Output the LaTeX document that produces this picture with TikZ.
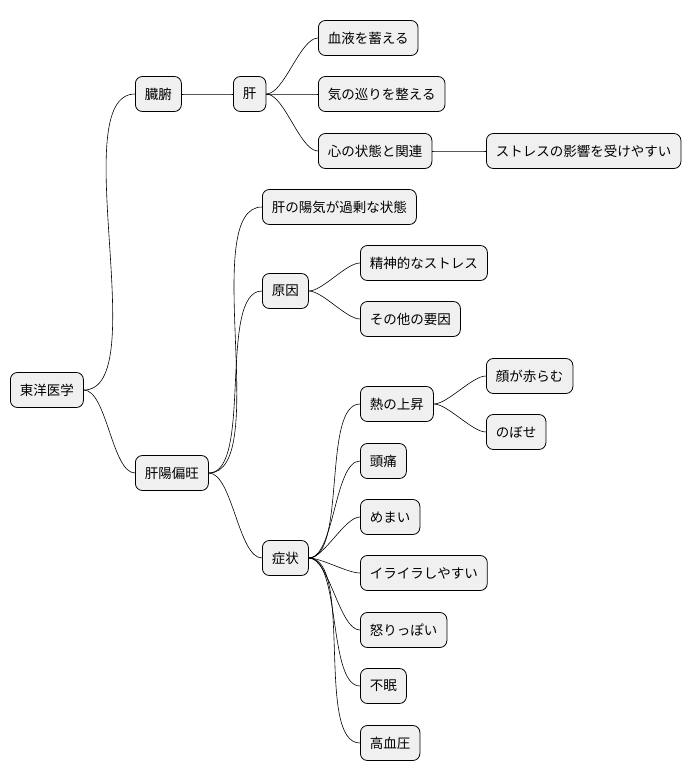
\documentclass[tikz,border=0pt]{standalone}
\usepackage{fontspec}
\setmainfont{Noto Sans CJK JP}
\begin{document}
\begin{tikzpicture}[x=1pt,y=1pt,
  box/.style={draw=black,fill=black!6,rounded corners=7pt,line width=0.8pt,minimum height=35pt,inner xsep=9.5pt,inner ysep=0pt,font=\fontsize{13.5pt}{15pt}\selectfont,anchor=west},
  link/.style={draw=black,line width=0.6pt}]
\useasboundingbox (0,0) rectangle (698,-781);
\node[box] (root) at (10,-390) {東洋医学};
\node[box] (zf) at (135,-94) {臓腑};
\node[box] (kan) at (233,-94) {肝};
\node[box] (a1) at (318,-38) {血液を蓄える};
\node[box] (a2) at (318,-94) {気の巡りを整える};
\node[box] (a3) at (318,-151) {心の状態と関連};
\node[box] (a4) at (486,-151) {ストレスの影響を受けやすい};
\node[box] (ky) at (135,-473) {肝陽偏旺};
\node[box] (b1) at (262,-207) {肝の陽気が過剰な状態};
\node[box] (b2) at (262,-291) {原因};
\node[box] (c1) at (360,-263) {精神的なストレス};
\node[box] (c2) at (360,-319) {その他の要因};
\node[box] (b3) at (262,-558) {症状};
\node[box] (d1) at (360,-404) {熱の上昇};
\node[box] (e1) at (486,-376) {顔が赤らむ};
\node[box] (e2) at (486,-432) {のぼせ};
\node[box] (d2) at (360,-461) {頭痛};
\node[box] (d3) at (360,-517) {めまい};
\node[box] (d4) at (360,-573) {イライラしやすい};
\node[box] (d5) at (360,-630) {怒りっぽい};
\node[box] (d6) at (360,-686) {不眠};
\node[box] (d7) at (360,-743) {高血圧};
\foreach \p/\c in {root/zf,root/ky,zf/kan,kan/a1,kan/a2,kan/a3,a3/a4,ky/b1,ky/b2,ky/b3,b2/c1,b2/c2,b3/d1,b3/d2,b3/d3,b3/d4,b3/d5,b3/d6,b3/d7,d1/e1,d1/e2}
  \draw[link] (\p.east) to[out=0,in=180,looseness=0.6] (\c.west);
\end{tikzpicture}
\end{document}
